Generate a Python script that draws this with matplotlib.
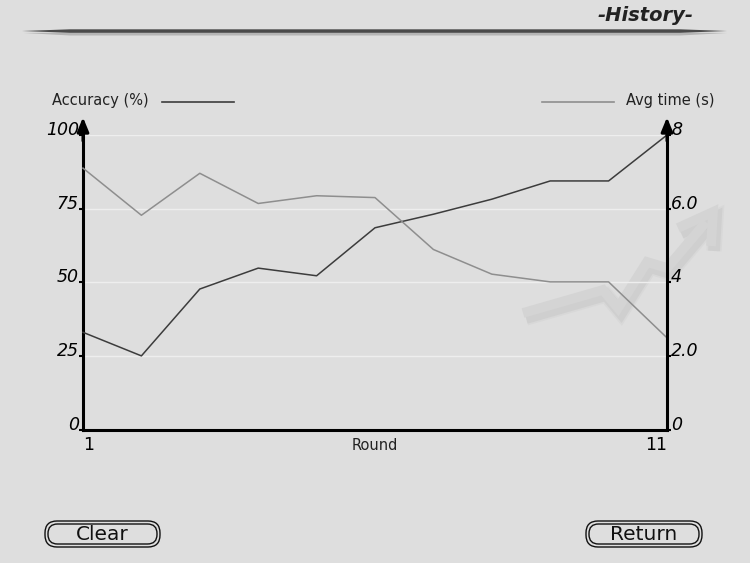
import matplotlib
matplotlib.use('Agg')
import matplotlib.pyplot as plt
from matplotlib.patches import FancyBboxPatch, Polygon
from matplotlib.lines import Line2D

# values
rounds = list(range(1, 12))
accuracy = [33, 25, 47.7, 54.8, 52.2, 68.5, 73.1, 78.2, 84.4, 84.4, 100]
avg_time = [7.1, 5.82, 6.96, 6.14, 6.35, 6.30, 4.89, 4.22, 4.01, 4.01, 2.49]
acc_ticks = [0, 25, 50, 75, 100]
acc_labels = ['0', '25', '50', '75', '100']
time_ticks = [0, 2, 4, 6, 8]
time_labels = ['0', '2.0', '4', '6.0', '8']
round_ticks = [1, 11]
round_labels = ['1', '11']

bg = '#dedede'
dark = '#3c3c3c'
light = '#8e8e8e'
W, H = 750, 563

fig = plt.figure(figsize=(7.5, 5.63), dpi=100, facecolor=bg)

# decoration layer, pixel coords
deco = fig.add_axes([0, 0, 1, 1], zorder=0)
deco.set_xlim(0, W)
deco.set_ylim(H, 0)
deco.axis('off')

# title + bar
deco.text(694, 15.5, '-History-', ha='right', va='center', fontsize=14,
          fontweight='bold', fontstyle='italic', color='#222222')
deco.add_patch(Polygon([(24, 33), (70, 32.5), (680, 32.5), (727, 33), (680, 35.5), (70, 35.5)],
                       closed=True, fc='#b5b5b5', ec='none'))
deco.add_patch(Polygon([(22, 31), (70, 29.3), (680, 29.3), (727, 31), (680, 32.8), (70, 32.8)],
                       closed=True, fc='#4a4a4a', ec='none'))

# faint trend arrow in the background
arrow_x = [523, 603, 618, 647, 667, 706]
arrow_y = [313, 290, 308, 262, 268, 222]
head_x = [678, 713, 711]
head_y = [228, 212, 246]
for lw, a in [(11, 0.10), (8.5, 0.18)]:
    deco.plot([x + 3 for x in arrow_x], [y + 5 for y in arrow_y], color='#a8a8a8', lw=lw,
              alpha=a, solid_joinstyle='miter', solid_capstyle='butt')
    deco.plot([x + 3 for x in head_x], [y + 5 for y in head_y], color='#a8a8a8', lw=lw,
              alpha=a, solid_joinstyle='miter', solid_capstyle='butt')
deco.plot(arrow_x, arrow_y, color='#d4d4d4', lw=7, solid_joinstyle='miter', solid_capstyle='butt')
deco.plot(head_x, head_y, color='#d4d4d4', lw=7, solid_joinstyle='miter', solid_capstyle='butt')

# buttons
for x0, x1, label in [(45, 160, 'Clear'), (586, 702, 'Return')]:
    deco.add_patch(FancyBboxPatch((x0, 521), x1 - x0, 26,
                                  boxstyle='round,pad=0,rounding_size=12',
                                  fc='none', ec='#111111', lw=1.0))
    deco.add_patch(FancyBboxPatch((x0 + 3, 524), x1 - x0 - 6, 20,
                                  boxstyle='round,pad=0,rounding_size=9.5',
                                  fc='none', ec='#111111', lw=1.0))
    deco.text((x0 + x1) / 2, 534.5, label, ha='center', va='center', fontsize=14.5,
              color='#111111')

# legend row
deco.text(52, 101, 'Accuracy (%)', ha='left', va='center', fontsize=10.5, color='#222222')
deco.add_line(Line2D([162, 234], [102, 102], color=dark, lw=1.2))
deco.text(714, 101, 'Avg time (s)', ha='right', va='center', fontsize=10.5, color='#222222')
deco.add_line(Line2D([542, 614], [102, 102], color=light, lw=1.2))

# main chart
ax = fig.add_axes([83 / W, 1 - 429.5 / H, 584 / W, 294.5 / H], zorder=2)
ax.patch.set_alpha(0)
ax.set_xlim(1, 11)
ax.set_ylim(0, 100)
ax.plot(rounds, accuracy, color=dark, lw=1.1, clip_on=False, zorder=3)

ax.set_yticks(acc_ticks)
ax.set_yticklabels(acc_labels)
ax.tick_params(axis='y', length=3, width=1.5, pad=0, labelsize=12.5, direction='out')
for lab in ax.get_yticklabels():
    lab.set_va('baseline')
    lab.set_fontstyle('italic')
ax.set_xticks(round_ticks)
ax.set_xticklabels(round_labels)
ax.tick_params(axis='x', length=0, pad=4.5, labelsize=12.5)
xl = ax.get_xticklabels()
xl[0].set_ha('left')
xl[1].set_ha('right')
ax.grid(axis='y', color='#eeeeee', lw=1.0)
ax.set_axisbelow(True)
ax.text(0.5, -0.055, 'Round', transform=ax.transAxes, ha='center', va='center',
        fontsize=10.5, color='#222222')

for s in ['top', 'right']:
    ax.spines[s].set_visible(False)
for s in ['left', 'bottom']:
    ax.spines[s].set_linewidth(2.2)
    ax.spines[s].set_color('black')

ax2 = ax.twinx()
ax2.set_zorder(3)
ax2.patch.set_visible(False)
ax2.set_ylim(0, 8)
ax2.plot(rounds, avg_time, color=light, lw=1.1, clip_on=False)
ax2.set_yticks(time_ticks)
ax2.set_yticklabels(time_labels)
ax2.tick_params(axis='y', length=3, width=1.5, pad=0, labelsize=12.5, direction='out')
for lab in ax2.get_yticklabels():
    lab.set_va('baseline')
    lab.set_fontstyle('italic')
for s in ['top', 'left', 'bottom']:
    ax2.spines[s].set_visible(False)
ax2.spines['right'].set_linewidth(2.2)
ax2.spines['right'].set_color('black')

# arrow heads on the two vertical axes
for xf in [0, 1]:
    ax.annotate('', xy=(xf, 1.06), xytext=(xf, 0.98), xycoords='axes fraction',
                arrowprops=dict(arrowstyle='-|>,head_width=0.35,head_length=0.85',
                                color='black', lw=2.2, shrinkA=0, shrinkB=0),
                annotation_clip=False, zorder=5)

fig.savefig('out.png', dpi=100, facecolor=bg)
